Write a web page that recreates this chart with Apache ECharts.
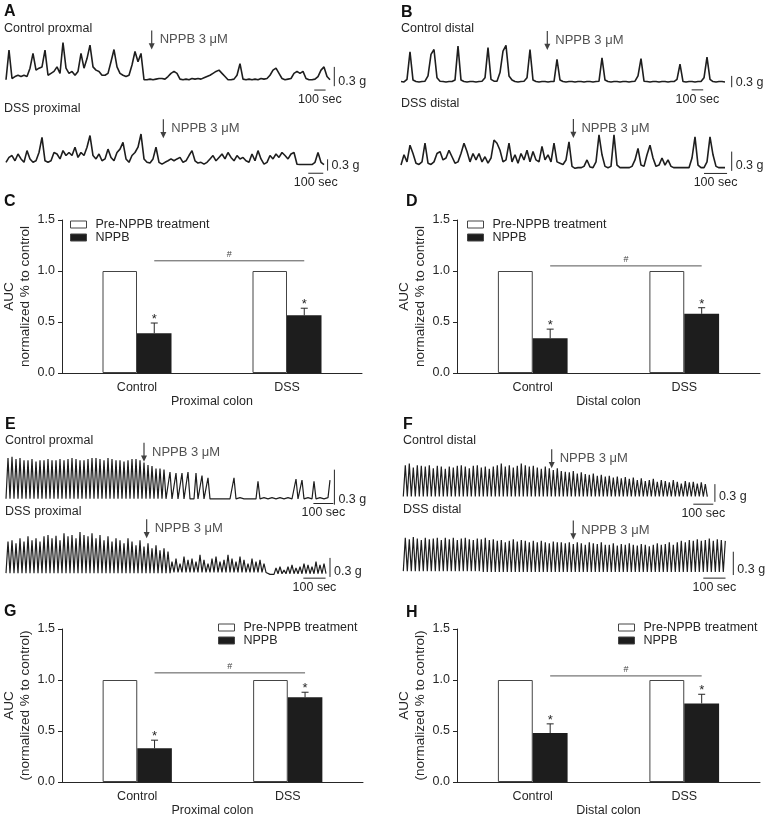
<!DOCTYPE html>
<html>
<head>
<meta charset="utf-8">
<script src="https://cdn.jsdelivr.net/npm/echarts@6.0.0/dist/echarts.min.js"></script>
<style>
  html, body { margin: 0; padding: 0; background: #fff; }
  #chart { width: 765px; height: 818px; }
</style>
</head>
<body>
<div id="chart"></div>
<script>
// ---------- bar chart data (AUC, normalized to control) ----------
const groups = ['Control', 'DSS'];
const cPre = [1, 1], cNppb = [0.39, 0.565], cErr = [0.10, 0.07], cSig = 1.10;
const dPre = [1, 1], dNppb = [0.34, 0.58], dErr = [0.09, 0.06], dSig = 1.05;
const gPre = [1, 1], gNppb = [0.33, 0.83], gErr = [0.08, 0.05], gSig = 1.07;
const hPre = [1, 1], hNppb = [0.48, 0.77], hErr = [0.09, 0.09], hSig = 1.04;

// ---------- contraction recordings (tension, g), uniform sampling ----------
const aCtrlProx = [
  0.03,0.49,0.05,0.08,0.10,0.08,0.10,0.08,0.21,0.44,
  0.18,0.21,0.23,0.49,0.10,0.13,0.16,0.23,0.13,0.61,
  0.21,0.13,0.16,0.10,0.16,0.44,0.21,0.36,0.57,0.23,
  0.18,0.16,0.10,0.10,0.13,0.31,0.50,0.23,0.13,0.10,
  0.08,0.10,0.26,0.47,0.31,0.44,0.03,0.03,0.04,0.03,
  0.04,0.05,0.05,0.04,0.08,0.13,0.16,0.13,0.04,0.03,
  0.04,0.03,0.05,0.04,0.05,0.04,0.06,0.08,0.10,0.13,
  0.16,0.18,0.13,0.08,0.03,0.03,0.04,0.10,0.28,0.04,
  0.03,0.04,0.03,0.04,0.03,0.05,0.04,0.05,0.10,0.18,
  0.21,0.13,0.05,0.03,0.04,0.05,0.13,0.16,0.13,0.16,
  0.05,0.03,0.03,0.04,0.08,0.18,0.23,0.08,0.03
];
const aDssProx = [
  0.09,0.22,0.27,0.13,0.31,0.18,0.09,0.40,0.18,0.09,
  0.13,0.35,0.75,0.13,0.09,0.13,0.35,0.31,0.18,0.40,
  0.27,0.35,0.27,0.49,0.22,0.35,0.27,0.49,0.80,0.27,
  0.18,0.31,0.13,0.18,0.44,0.22,0.13,0.35,0.44,0.62,
  0.18,0.09,0.27,0.35,0.49,0.84,0.18,0.09,0.07,0.18,
  0.49,0.09,0.04,0.09,0.13,0.18,0.13,0.18,0.22,0.09,
  0.13,0.27,0.40,0.13,0.07,0.09,0.04,0.09,0.18,0.27,
  0.13,0.22,0.31,0.18,0.35,0.22,0.13,0.27,0.18,0.22,
  0.13,0.09,0.31,0.13,0.40,0.18,0.04,0.09,0.27,0.18,
  0.31,0.22,0.35,0.27,0.18,0.31,0.35,0.04,0.03,0.03,
  0.03,0.03,0.03,0.09,0.35,0.09,0.03
];
const bCtrlDist = [
  0.03,0.02,0.09,0.82,0.07,0.03,0.02,0.03,0.04,0.18,
  0.75,0.88,0.13,0.04,0.03,0.02,0.03,0.03,0.07,0.97,
  0.07,0.03,0.02,0.03,0.03,0.02,0.03,0.04,0.13,0.93,
  0.09,0.04,0.04,0.27,0.84,0.99,0.18,0.07,0.03,0.02,
  0.03,0.04,0.13,0.88,0.07,0.03,0.02,0.03,0.03,0.02,
  0.03,0.03,0.62,0.07,0.03,0.02,0.03,0.03,0.02,0.03,
  0.03,0.02,0.03,0.03,0.02,0.03,0.04,0.66,0.07,0.03,
  0.02,0.03,0.03,0.02,0.03,0.03,0.02,0.03,0.04,0.18,
  0.64,0.04,0.03,0.02,0.03,0.03,0.02,0.03,0.03,0.02,
  0.03,0.03,0.09,0.49,0.03,0.02,0.03,0.03,0.02,0.03,
  0.03,0.13,0.68,0.09,0.03,0.02,0.03,0.03,0.02
];
const bDssDist = [
  0.05,0.21,0.10,0.36,0.23,0.08,0.06,0.10,0.39,0.08,
  0.06,0.10,0.23,0.26,0.13,0.16,0.28,0.18,0.08,0.10,
  0.23,0.39,0.26,0.10,0.23,0.13,0.23,0.10,0.18,0.08,
  0.16,0.44,0.39,0.28,0.10,0.13,0.39,0.10,0.21,0.08,
  0.23,0.13,0.28,0.10,0.26,0.13,0.10,0.34,0.13,0.21,
  0.10,0.39,0.10,0.08,0.06,0.13,0.41,0.03,0.00,0.01,
  0.01,0.03,0.13,0.02,0.01,0.10,0.52,0.21,0.03,0.01,
  0.03,0.52,0.05,0.01,0.01,0.01,0.01,0.03,0.13,0.31,
  0.05,0.03,0.21,0.36,0.16,0.03,0.05,0.16,0.05,0.13,
  0.03,0.01,0.01,0.01,0.01,0.01,0.01,0.16,0.49,0.05,
  0.01,0.01,0.10,0.49,0.21,0.03,0.01,0.01,0.01
];
const eCtrlProx = [
  0.01,0.36,0.01,0.37,0.01,0.35,0.01,0.36,0.01,0.34,
  0.01,0.34,0.01,0.35,0.01,0.33,0.01,0.34,0.01,0.34,
  0.01,0.35,0.01,0.34,0.01,0.34,0.01,0.35,0.01,0.34,
  0.01,0.35,0.01,0.36,0.01,0.35,0.01,0.34,0.01,0.34,
  0.01,0.35,0.01,0.36,0.01,0.36,0.01,0.35,0.01,0.34,
  0.01,0.36,0.01,0.35,0.01,0.34,0.01,0.34,0.01,0.33,
  0.01,0.34,0.01,0.35,0.01,0.35,0.01,0.34,0.01,0.32,
  0.01,0.30,0.01,0.29,0.01,0.27,0.01,0.27,0.01,0.26,
  0.01,0.01,0.24,0.01,0.01,0.23,0.01,0.01,0.23,0.01,
  0.01,0.24,0.01,0.02,0.01,0.23,0.01,0.01,0.21,0.01,
  0.01,0.19,0.01,0.02,0.01,0.01,0.01,0.02,0.01,0.01,
  0.01,0.02,0.01,0.01,0.19,0.01,0.01,0.02,0.01,0.01,
  0.02,0.01,0.01,0.01,0.02,0.01,0.16,0.01,0.01,0.02,
  0.01,0.01,0.01,0.02,0.01,0.01,0.01,0.02,0.01,0.01,
  0.01,0.02,0.01,0.01,0.01,0.18,0.01,0.01,0.17,0.01,
  0.01,0.02,0.01,0.01,0.16,0.01,0.01,0.02,0.01,0.01,
  0.01,0.02,0.17
];
const eDssProx = [
  0.03,0.53,0.03,0.55,0.03,0.50,0.03,0.58,0.03,0.53,
  0.03,0.61,0.03,0.55,0.03,0.58,0.03,0.53,0.03,0.61,
  0.03,0.63,0.03,0.58,0.03,0.62,0.03,0.55,0.03,0.66,
  0.03,0.61,0.03,0.63,0.03,0.58,0.03,0.68,0.03,0.63,
  0.03,0.61,0.03,0.66,0.03,0.58,0.03,0.63,0.03,0.55,
  0.03,0.61,0.03,0.53,0.03,0.58,0.03,0.55,0.03,0.50,
  0.03,0.58,0.03,0.53,0.03,0.47,0.03,0.55,0.03,0.45,
  0.03,0.50,0.03,0.42,0.03,0.47,0.03,0.39,0.03,0.42,
  0.03,0.37,0.03,0.21,0.04,0.26,0.04,0.18,0.04,0.29,
  0.04,0.24,0.04,0.26,0.04,0.21,0.04,0.32,0.04,0.24,
  0.04,0.18,0.04,0.26,0.04,0.29,0.04,0.21,0.04,0.24,
  0.04,0.32,0.04,0.26,0.04,0.21,0.04,0.29,0.04,0.24,
  0.04,0.18,0.04,0.26,0.04,0.21,0.04,0.24,0.04,0.18,
  0.04,0.01,0.01,0.01,0.01,0.11,0.02,0.13,0.02,0.08,
  0.02,0.13,0.02,0.16,0.02,0.11,0.02,0.13,0.02,0.18,
  0.02,0.16,0.02,0.13,0.02,0.21,0.02,0.16,0.02,0.18,
  0.02
];
const fCtrlDist = [
  0.03,0.56,0.03,0.59,0.03,0.52,0.03,0.56,0.03,0.55,
  0.03,0.54,0.03,0.56,0.03,0.51,0.03,0.55,0.03,0.54,
  0.03,0.50,0.03,0.54,0.03,0.52,0.03,0.55,0.03,0.56,
  0.03,0.54,0.03,0.51,0.03,0.55,0.03,0.56,0.03,0.52,
  0.03,0.54,0.03,0.50,0.03,0.54,0.03,0.56,0.03,0.59,
  0.03,0.54,0.03,0.56,0.03,0.52,0.03,0.55,0.03,0.59,
  0.03,0.56,0.03,0.54,0.03,0.55,0.03,0.52,0.03,0.50,
  0.03,0.54,0.03,0.51,0.03,0.48,0.03,0.51,0.03,0.46,
  0.03,0.45,0.03,0.44,0.03,0.46,0.03,0.42,0.03,0.44,
  0.03,0.41,0.03,0.40,0.03,0.42,0.03,0.38,0.03,0.40,
  0.03,0.37,0.03,0.38,0.03,0.35,0.03,0.37,0.03,0.34,
  0.03,0.36,0.03,0.33,0.03,0.35,0.03,0.31,0.03,0.34,
  0.03,0.29,0.03,0.31,0.03,0.33,0.03,0.28,0.03,0.31,
  0.03,0.29,0.03,0.27,0.03,0.31,0.03,0.28,0.03,0.25,
  0.03,0.29,0.03,0.27,0.03,0.28,0.03,0.25,0.03,0.27,
  0.03,0.24,0.03
];
const fDssDist = [
  0.02,0.45,0.02,0.43,0.02,0.46,0.02,0.44,0.02,0.42,
  0.02,0.45,0.02,0.43,0.02,0.44,0.02,0.45,0.02,0.42,
  0.02,0.45,0.02,0.43,0.02,0.45,0.02,0.42,0.02,0.44,
  0.02,0.45,0.02,0.43,0.02,0.42,0.02,0.44,0.02,0.43,
  0.01,0.45,0.01,0.42,0.01,0.43,0.01,0.41,0.01,0.42,
  0.01,0.39,0.01,0.41,0.01,0.43,0.01,0.40,0.01,0.42,
  0.01,0.41,0.01,0.39,0.01,0.41,0.01,0.39,0.01,0.41,
  0.01,0.39,0.01,0.38,0.01,0.40,0.01,0.39,0.01,0.39,
  0.01,0.38,0.01,0.39,0.01,0.37,0.01,0.39,0.01,0.38,
  0.01,0.36,0.01,0.39,0.01,0.38,0.01,0.37,0.01,0.39,
  0.01,0.36,0.01,0.36,0.01,0.38,0.01,0.35,0.01,0.37,
  0.01,0.36,0.01,0.38,0.01,0.36,0.01,0.35,0.01,0.37,
  0.01,0.36,0.01,0.34,0.01,0.36,0.01,0.38,0.01,0.36,
  0.01,0.37,0.01,0.39,0.01,0.36,0.01,0.39,0.01,0.41,
  0.01,0.39,0.01,0.42,0.01,0.41,0.01,0.43,0.01,0.41,
  0.01,0.42,0.01,0.44,0.01,0.41,0.01,0.43,0.01,0.42,
  0.01,0.41
];

// seconds per sample, NPPB addition [s, arrow height g], scale bars [vBar s, vBar low g, hBar s, hBar g]
const traces = [
  { name: 'Control proxmal', data: aCtrlProx, dt: 26.5, drug: [1287, 0.65], scale: [2900, -0.07, 2723, -0.13] },
  { name: 'DSS proximal',    data: aDssProx,  dt: 20,   drug: [1049, 0.98], scale: [2144, -0.13, 2015, -0.20] },
  { name: 'Control distal',  data: bCtrlDist, dt: 26,   drug: [1268, 1.12], scale: [2866, -0.12, 2519, -0.19] },
  { name: 'DSS distal',      data: bDssDist,  dt: 13,   drug: [747, 0.62],  scale: [1433, -0.04, 1313, -0.08] },
  { name: 'Control proxmal', data: eCtrlProx, dt: 10,   drug: [690, 0.41],  scale: [1642, -0.04, 1537, -0.03] },
  { name: 'DSS proximal',    data: eDssProx,  dt: 9,    drug: [633, 0.73],  scale: [1458, -0.03, 1338, -0.05] },
  { name: 'Control distal',  data: fCtrlDist, dt: 10,   drug: [742, 0.67],  scale: [1558, -0.06, 1450, -0.10] },
  { name: 'DSS distal',      data: fDssDist,  dt: 9,    drug: [765, 0.55],  scale: [1485, -0.03, 1350, -0.07] }
];

// ---------- layout ----------
const FONT = '"Liberation Sans", Arial, sans-serif';
const INK = '#262626';

// pixel placement of each trace: first sample x, baseline y, px per sample, px per g, label pos
const traceBox = [
  { left: 6,     base: 81.7,  step: 3, pxPerG: 64.3,  label: [4, 22] },
  { left: 6,     base: 165.7, step: 3, pxPerG: 37.7,  label: [4, 102] },
  { left: 401,   base: 82.7,  step: 3, pxPerG: 37.7,  label: [401, 22] },
  { left: 401,   base: 168.3, step: 3, pxPerG: 64.3,  label: [401, 97] },
  { left: 6,     base: 500,   step: 2, pxPerG: 116.7, label: [5, 434] },
  { left: 6,     base: 575,   step: 2, pxPerG: 63.3,  label: [5, 505] },
  { left: 403.3, base: 498.3, step: 2, pxPerG: 59,    label: [403, 434] },
  { left: 403.3, base: 572.7, step: 2, pxPerG: 77.7,  label: [403, 503] }
];

const barPanels = [
  { grid: { left: 60,  top: 220, width: 302, height: 153 }, pre: cPre, nppb: cNppb, err: cErr, sig: cSig,
    xName: 'Proximal colon', yName: 'AUC\nnormalized % to control', legend: [70, 218] },
  { grid: { left: 457, top: 220, width: 303, height: 153 }, pre: dPre, nppb: dNppb, err: dErr, sig: dSig,
    xName: 'Distal colon', yName: 'AUC\nnormalized % to control', legend: [467, 218] },
  { grid: { left: 60,  top: 629, width: 303, height: 153 }, pre: gPre, nppb: gNppb, err: gErr, sig: gSig,
    xName: 'Proximal colon', yName: 'AUC\n(normalized % to control)', legend: [218, 621] },
  { grid: { left: 457, top: 629, width: 303, height: 153 }, pre: hPre, nppb: hNppb, err: hErr, sig: hSig,
    xName: 'Distal colon', yName: 'AUC\n(normalized % to control)', legend: [618, 621] }
];

const letters = [['A', 4, 4], ['B', 401, 5], ['C', 4, 194], ['D', 406, 194],
                 ['E', 5, 417], ['F', 403, 417], ['G', 4, 604], ['H', 406, 605]];

const ARROW = 'path://M4 0H6V27H10L5 40L0 27H4Z';
const BAR_OFF = 0.115; // half of bar width as a fraction of the category band

function errorBar(params, api) {
  const i = api.value(0), v = api.value(1), e = api.value(2);
  const band = api.size([1, 0])[0];
  const x = api.coord([i, 0])[0] + band * BAR_OFF;
  const yb = api.coord([i, v])[1], yt = api.coord([i, v + e])[1];
  return {
    type: 'group', children: [
      { type: 'line', shape: { x1: x, y1: yb, x2: x, y2: yt }, style: { stroke: INK, lineWidth: 1 } },
      { type: 'line', shape: { x1: x - 3.5, y1: yt, x2: x + 3.5, y2: yt }, style: { stroke: INK, lineWidth: 1 } },
      { type: 'text', x: x, y: yt + 3, style: { text: '*', font: '13px ' + FONT, fill: INK,
        align: 'center', verticalAlign: 'bottom', textAlign: 'center', textVerticalAlign: 'bottom' } }
    ]
  };
}

function sigLine(params, api) {
  const y = api.value(1);
  const band = api.size([1, 0])[0];
  const p1 = api.coord([0, y]), p2 = api.coord([1, y]);
  const x1 = p1[0] + band * BAR_OFF, x2 = p2[0] + band * BAR_OFF;
  return {
    type: 'group', children: [
      { type: 'line', shape: { x1: x1, y1: p1[1], x2: x2, y2: p1[1] }, style: { stroke: '#555', lineWidth: 1 } },
      { type: 'text', x: (x1 + x2) / 2, y: p1[1] - 2, style: { text: '#', font: '9px ' + FONT, fill: '#444',
        align: 'center', verticalAlign: 'bottom', textAlign: 'center', textVerticalAlign: 'bottom' } }
    ]
  };
}

function scaleBar(params, api) {
  const tv = api.value(0), yl = api.value(1), th = api.value(2), yh = api.value(3);
  const a = api.coord([tv, yl]), b = api.coord([tv, yl + 0.3]);
  const c = api.coord([th, yh]), d = api.coord([th + 100, yh]);
  const txt = { font: '12.5px ' + FONT, fill: INK };
  return {
    type: 'group', children: [
      { type: 'line', shape: { x1: a[0], y1: a[1], x2: b[0], y2: b[1] }, style: { stroke: INK, lineWidth: 1 } },
      { type: 'text', x: a[0] + 4, y: a[1] - 5, style: Object.assign({ text: '0.3 g',
        align: 'left', verticalAlign: 'middle', textAlign: 'left', textVerticalAlign: 'middle' }, txt) },
      { type: 'line', shape: { x1: c[0], y1: c[1], x2: d[0], y2: d[1] }, style: { stroke: INK, lineWidth: 1 } },
      { type: 'text', x: (c[0] + d[0]) / 2, y: c[1] + 3, style: Object.assign({ text: '100 sec',
        align: 'center', verticalAlign: 'top', textAlign: 'center', textVerticalAlign: 'top' }, txt) }
    ]
  };
}

const option = {
  animation: false,
  textStyle: { fontFamily: FONT },
  grid: [], xAxis: [], yAxis: [], series: [], legend: [], graphic: []
};

// bar panels C, D, G, H
barPanels.forEach((p, k) => {
  option.grid.push(p.grid);
  option.xAxis.push({
    type: 'category', gridIndex: k, data: groups,
    name: p.xName, nameLocation: 'middle', nameGap: 22, nameMoveOverlap: false,
    nameTextStyle: { fontSize: 12.5, color: INK },
    axisLine: { lineStyle: { color: INK } },
    axisTick: { length: 4, lineStyle: { color: INK } },
    axisLabel: { fontSize: 12.5, color: INK, margin: 8 }
  });
  option.yAxis.push({
    type: 'value', gridIndex: k, min: 0, max: 1.5, interval: 0.5,
    name: p.yName, nameLocation: 'middle', nameGap: 29, nameMoveOverlap: false,
    nameTextStyle: { fontSize: 13.5, color: INK, lineHeight: 16 },
    axisLine: { show: true, lineStyle: { color: INK } },
    axisTick: { show: true, length: 4, lineStyle: { color: INK } },
    splitLine: { show: false },
    axisLabel: { fontSize: 12.5, color: INK, margin: 7, formatter: v => v.toFixed(1) }
  });
  option.series.push({
    name: 'Pre-NPPB treatment', type: 'bar', xAxisIndex: k, yAxisIndex: k, data: p.pre,
    barWidth: '23%', barGap: '0%', itemStyle: { color: '#fff', borderColor: '#444', borderWidth: 1 }
  });
  option.series.push({
    name: 'NPPB', type: 'bar', xAxisIndex: k, yAxisIndex: k, data: p.nppb,
    barWidth: '23%', barGap: '0%', itemStyle: { color: '#1d1d1d' }
  });
  option.series.push({
    type: 'custom', xAxisIndex: k, yAxisIndex: k, z: 5,
    data: p.nppb.map((v, i) => [i, v, p.err[i]]), renderItem: errorBar
  });
  option.series.push({
    type: 'custom', xAxisIndex: k, yAxisIndex: k, z: 5,
    data: [[0, p.sig]], renderItem: sigLine
  });
  option.legend.push({
    left: p.legend[0], top: p.legend[1], orient: 'vertical', icon: 'rect', padding: 0,
    itemWidth: 16, itemHeight: 7, itemGap: 0, selectedMode: false,
    data: ['Pre-NPPB treatment', 'NPPB'],
    itemStyle: { borderColor: '#444', borderWidth: 1 },
    textStyle: { fontSize: 12.5, color: INK, padding: [0, 0, 0, 4] }
  });
});

// trace panels A, B, E, F
traces.forEach((t, j) => {
  const box = traceBox[j];
  const g = barPanels.length + j;
  const W = 352, above = 75, below = 25;
  option.grid.push({ left: box.left, top: box.base - above, width: W, height: above + below });
  option.xAxis.push({ type: 'value', gridIndex: g, min: 0, max: W / box.step * t.dt, show: false });
  option.yAxis.push({ type: 'value', gridIndex: g, min: -below / box.pxPerG, max: above / box.pxPerG, show: false });
  option.series.push({
    type: 'line', xAxisIndex: g, yAxisIndex: g, silent: true,
    data: t.data.map((v, i) => [i * t.dt, v]),
    showSymbol: false, symbol: 'none',
    lineStyle: { color: '#1e1e1e', width: box.step === 3 ? 1.6 : 1.2 }
  });
  option.series.push({
    type: 'custom', xAxisIndex: g, yAxisIndex: g, silent: true,
    data: [t.scale], renderItem: scaleBar
  });
  option.series.push({
    type: 'scatter', xAxisIndex: g, yAxisIndex: g, silent: true, clip: false,
    data: [t.drug], symbol: ARROW, symbolSize: [6, 19], itemStyle: { color: '#111' },
    label: { show: true, position: 'right', distance: 5, formatter: 'NPPB 3 μM', fontSize: 13, color: INK }
  });
  option.graphic.push({
    type: 'text', left: box.label[0], top: box.label[1],
    style: { text: t.name, font: '12.5px ' + FONT, fill: INK }
  });
});

letters.forEach(l => {
  option.graphic.push({ type: 'text', left: l[1], top: l[2], style: { text: l[0], font: 'bold 16px ' + FONT, fill: '#111' } });
});

const chart = echarts.init(document.getElementById('chart'));
chart.setOption(option);
</script>
</body>
</html>
